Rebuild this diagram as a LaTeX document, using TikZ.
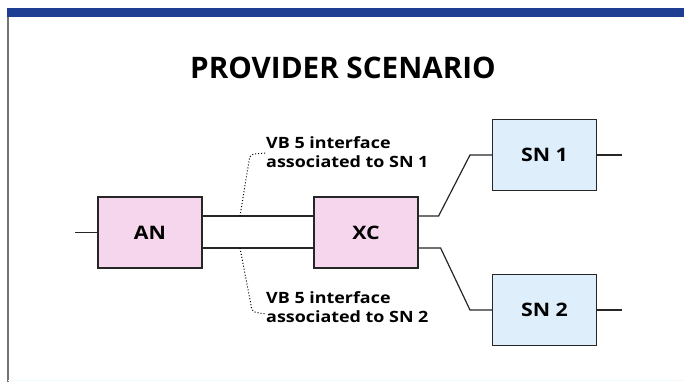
\documentclass[tikz,border=0pt]{standalone}
\usepackage{fontspec}
\setmainfont{Open Sans}
\newfontfamily\widefont[FakeStretch=1.15]{Open Sans}
\usepackage{tikz}
\usepackage{xcolor}
\definecolor{barblue}{RGB}{30,62,148}
\definecolor{anpink}{RGB}{246,214,236}
\definecolor{snblue}{RGB}{222,238,250}
\tikzset{
    pink-box/.style = {draw=black!85, fill=anpink, line width=1.2pt, rectangle, minimum width=36.4mm, minimum height=24.8mm, font=\widefont\fontsize{18.5}{20}\selectfont\bfseries},
    blue-box/.style = {pink-box, fill=snblue},
    link/.style = {draw=black!85, line width=1.2pt},
    leader/.style = {draw=black, dotted, line width=1pt},
    vb-label/.style = {anchor=west, align=left, inner sep=0pt, font=\widefont\fontsize{15.5}{19}\selectfont\bfseries},
}

\begin{document}
\begin{tikzpicture}[x=0.35mm, y=-0.35mm]
\useasboundingbox (0,0) rectangle (684,382);
% frame
\fill[barblue] (7,8) rectangle (684,17);
\draw[black!55, line width=1pt] (8,17) -- (8,382);
\draw[cyan!6, line width=0.8pt] (8,380) -- (684,380);
\node[font=\fontsize{29.5}{32}\selectfont\bfseries] (title) at (343,68) {PROVIDER SCENARIO};

\node[pink-box] (an) at (150,232.5) {AN};
\node[pink-box] (xc) at (366,232.5) {XC};
\node[blue-box] (sn1) at (544.5,155) {SN 1};
\node[blue-box] (sn2) at (544.5,310) {SN 2};

\coordinate (in) at (75,232.5);
\coordinate (out1) at (622,155);
\coordinate (out2) at (622,310);
\coordinate (bend1) at (470,155);
\coordinate (bend2) at (470,310);

\draw[link] (in) -- (an.west);
\draw[link] (an.east |- 0,216) -- (xc.west |- 0,216);
\draw[link] (an.east |- 0,248) -- (xc.west |- 0,248);
\draw[link] (xc.east |- 0,216) -- ++(20,0) -- (bend1) -- (sn1.west);
\draw[link] (xc.east |- 0,248) -- ++(22,0) -- (bend2) -- (sn2.west);
\draw[link] (sn1.east) -- (out1);
\draw[link] (sn2.east) -- (out2);

% interface labels
\node[vb-label] (vb1) at (266,152) {VB 5 interface\\associated to SN 1};
\node[vb-label] (vb2) at (266,307) {VB 5 interface\\associated to SN 2};
\draw[leader] (240,216) -- (249,161) .. controls (250,154) .. (vb1.west |- 0,153);
\draw[leader] (240,248) -- (251,305) .. controls (252,312) .. (vb2.west |- 0,314);
\end{tikzpicture}
\end{document}
